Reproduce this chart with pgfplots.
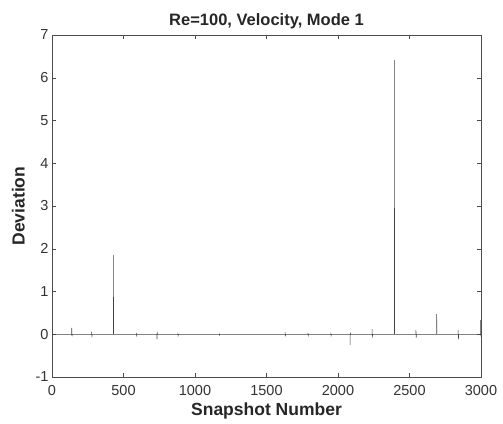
\documentclass[border=0pt]{standalone}
\usepackage{pgfplots}
\pgfplotsset{compat=1.18}
\usepackage{fontspec}
\setmainfont{Liberation Sans}
\begin{document}
\begin{tikzpicture}
\useasboundingbox (-52pt,-46pt) rectangle (451pt,377pt);
\begin{axis}[
  at={(0,0)}, anchor=south west,
  scale only axis,
  width=429pt, height=342pt,
  xmin=0, xmax=3000, ymin=-1, ymax=7,
  xtick={0,500,...,3000}, ytick={-1,0,...,7},
  tick align=inside, tick pos=both,
  major tick length=4pt,
  axis line style={black!70, line width=0.6pt},
  every tick/.style={black!70, line width=0.5pt},
  /pgf/number format/assume math mode=true,
  /pgf/number format/1000 sep={},
  ticklabel style={font=\fontsize{14.5}{15}\selectfont, text=black!80},
  xticklabel style={yshift=-5pt},
  yticklabel style={xshift=0pt},
  title={\bfseries Re=100, Velocity, Mode 1},
  title style={font=\fontsize{16.5}{18}\selectfont, yshift=-3pt, text=black!85},
  xlabel={\bfseries Snapshot Number},
  ylabel={\bfseries Deviation},
  label style={font=\fontsize{17.5}{19}\selectfont, text=black!85},
  xlabel style={yshift=0pt},
  ylabel style={yshift=4pt},
]
\addplot[black!75, line width=0.5pt, sharp plot] coordinates {
(0,0)(138,0)(138,0.15)(140,-0.05)(142,0)
(277,0)(277,0.06)(279,-0.07)(281,0)
(429,0)(429,1.85)(431,0)
(590,0)(590,0.03)(592,-0.03)(594,0)
(734,0)(734,-0.12)(736,0.03)(738,0)
(880,0)(880,0.03)(882,-0.03)(884,0)
(1170,0)(1170,0.02)(1172,-0.02)(1174,0)
(1630,0)(1630,0.05)(1632,-0.05)(1634,0)
(1790,0)(1790,0.03)(1792,-0.03)(1794,0)
(1950,0)(1950,0.04)(1952,-0.03)(1954,0)
(2084,0)(2084,-0.25)(2086,0.04)(2088,0)
(2238,0)(2238,0.12)(2240,-0.08)(2242,0)
(2394,0)(2394,6.42)(2396,0)
(2545,0)(2545,0.1)(2547,-0.08)(2549,0)
(2690,0)(2690,0.47)(2692,0)
(2840,0)(2840,0.1)(2842,-0.12)(2844,0)
(2997,0)(2997,0.33)(2999,-0.05)(3000,0)
};
\end{axis}
\end{tikzpicture}
\end{document}
